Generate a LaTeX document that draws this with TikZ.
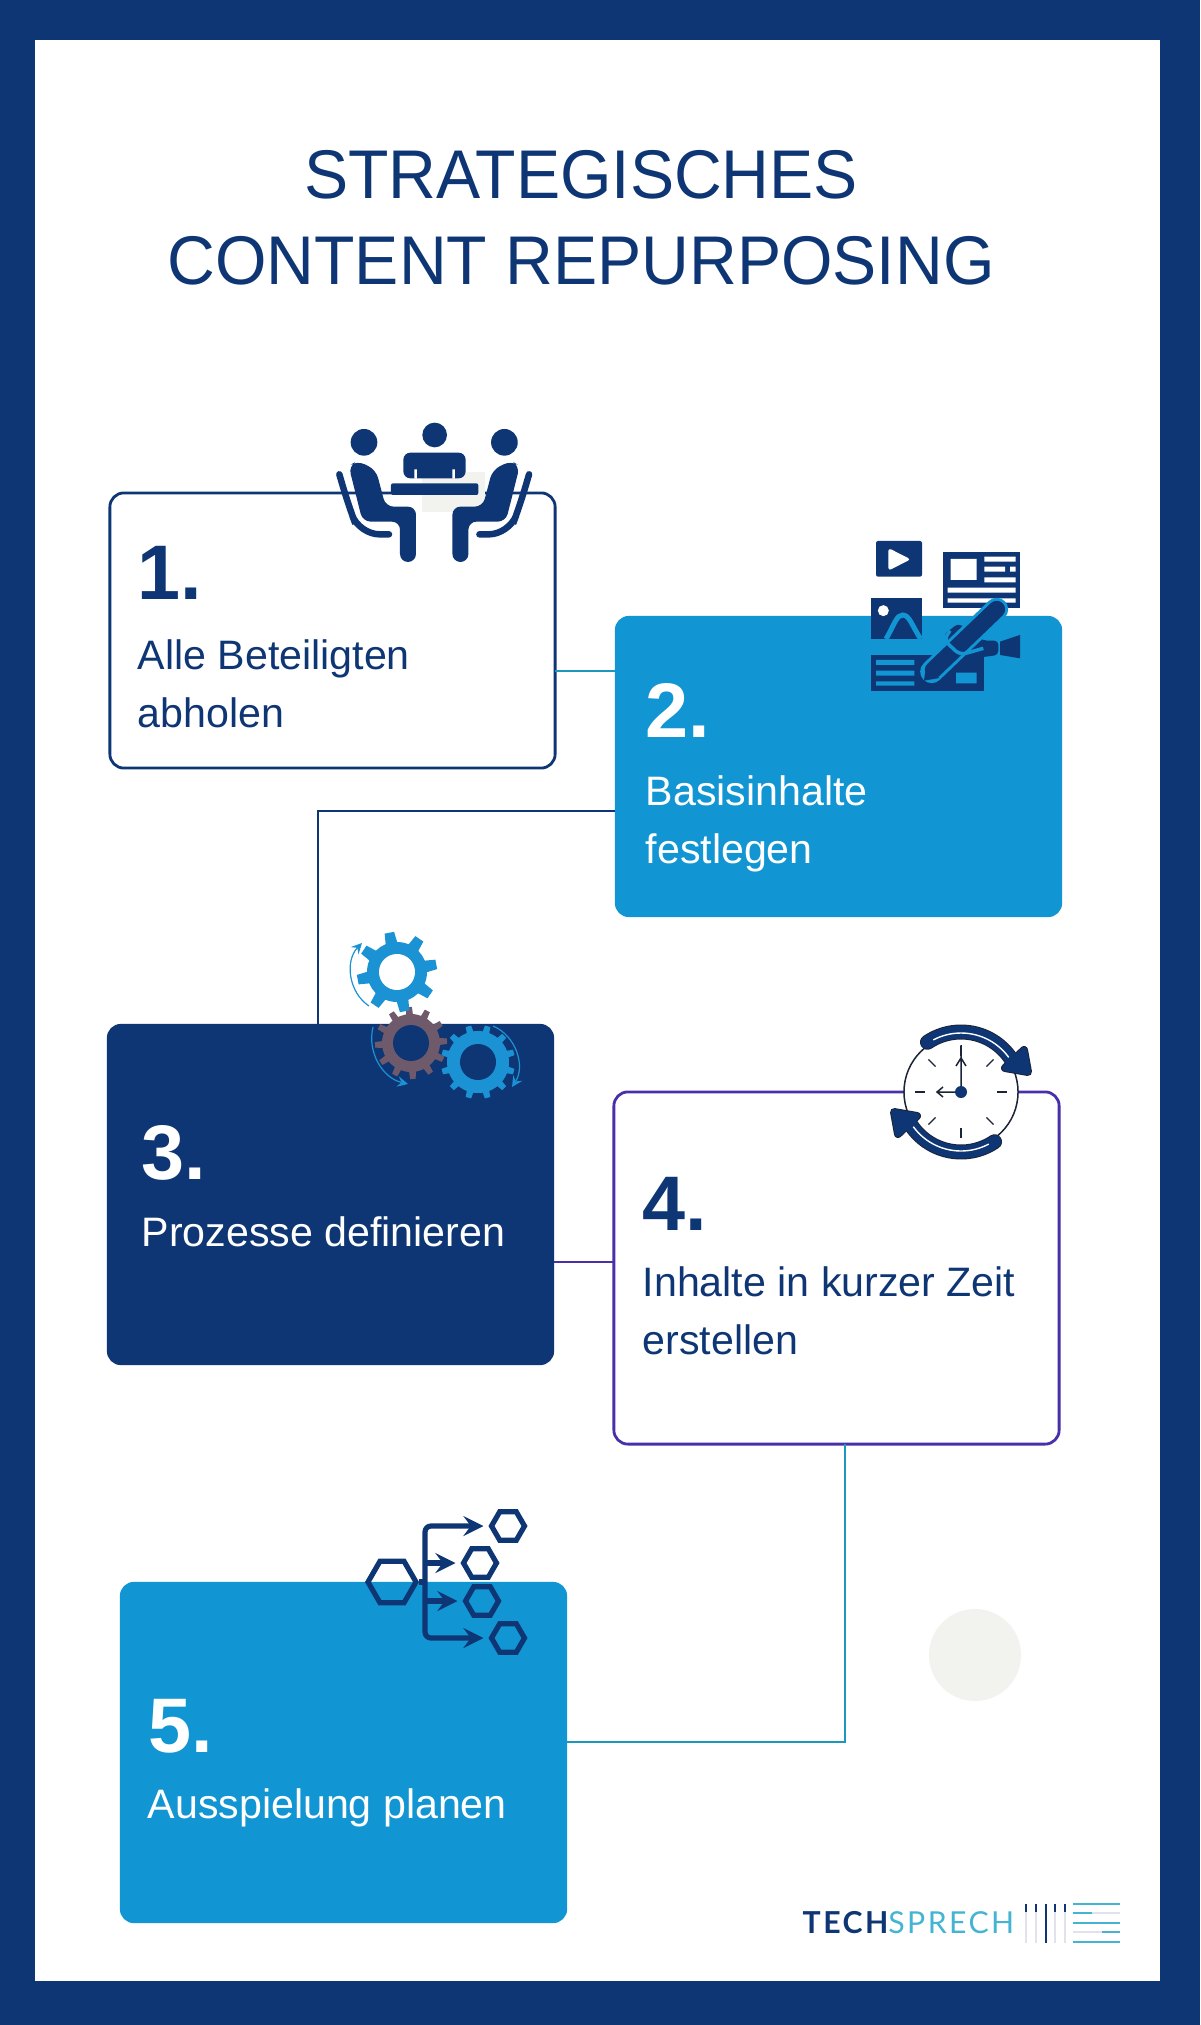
\documentclass[tikz,border=0pt]{standalone}
\usepackage{fontspec}
\setmainfont{Liberation Sans}
\newfontfamily\titlefont[FakeStretch=0.96]{Liberation Sans}
\newfontfamily\logofont[LetterSpace=8]{Lato}
\usetikzlibrary{shapes.geometric}

\definecolor{navyblue}{HTML}{0F3674}
\definecolor{cardblue}{HTML}{1195D3}
\definecolor{linkteal}{HTML}{1C98BC}
\definecolor{linkpurple}{HTML}{4A30A8}
\definecolor{paledot}{HTML}{F2F2EE}
\definecolor{gearblue}{HTML}{1B92D4}
\definecolor{gearbrown}{HTML}{6F5A6C}
\definecolor{clockdark}{HTML}{1B2438}
\definecolor{barpale}{HTML}{E2E2EC}
\definecolor{logoteal}{HTML}{45B4D2}

% x y corpo punta denti larghezza colore foro rotazione
\newcommand{\gearicon}[9]{
  \begin{scope}[shift={(#1,#2)}]
    \fill[#7] (0,0) circle[radius=#3*0.01cm];
    \foreach \i in {1,...,#5}
      \fill[#7,rotate=#9+360*\i/#5] (-#6,#3-2) -- (-#6*0.8,#4) -- (#6*0.8,#4) -- (#6,#3-2) -- cycle;
  \end{scope}
  \fill[#8] (#1,#2) circle[radius=0.18cm];
}

\tikzset{
  card/.style={rectangle,rounded corners=0.14cm,line width=0.028cm,inner sep=0pt,outer sep=0pt},
  number/.style={anchor=base west,inner sep=0pt,font=\bfseries\fontsize{22}{22}\selectfont},
  label/.style={anchor=north west,inner sep=0pt,align=left,font=\fontsize{11.7}{16.5}\selectfont},
  link/.style={line width=0.028cm},
  flow/.style={navyblue,line width=0.052cm},
  hexa/.style={regular polygon,regular polygon sides=6,draw=navyblue,line width=0.052cm,inner sep=0pt}
}

\begin{document}
\begin{tikzpicture}[x=0.01cm,y=-0.01cm,>=stealth]

  % Cornice e sfondo
  \fill[navyblue] (0,0) rectangle (1200,2025);
  \fill[white] (35,40) rectangle (1160,1981);
  \node[circle,fill=paledot,minimum size=0.92cm,inner sep=0pt] (dot) at (975,1655) {};

  \node[text=navyblue,align=center,font=\titlefont\fontsize{19.6}{24.6}\selectfont] (title) at (581,218)
    {STRATEGISCHES\\CONTENT REPURPOSING};

  % Riquadri
  \node[card,draw=navyblue,fill=white,minimum width=4.45cm,minimum height=2.75cm] (box1) at (332.5,630.5) {};
  \node[card,fill=cardblue,minimum width=4.47cm,minimum height=3.01cm] (box2) at (838.5,766.5) {};
  \node[card,fill=navyblue,minimum width=4.47cm,minimum height=3.41cm] (box3) at (330.5,1194.5) {};
  \node[card,draw=linkpurple,fill=white,minimum width=4.45cm,minimum height=3.52cm] (box4) at (836.5,1268) {};
  \node[card,fill=cardblue,minimum width=4.47cm,minimum height=3.41cm] (box5) at (343.5,1752.5) {};

  % Collegamenti
  \coordinate (j12) at (555,671);
  \coordinate (j23) at (615,811);
  \coordinate (k23) at (318,811);
  \coordinate (j34) at (554,1262);
  \coordinate (j45) at (845,1444);
  \draw[link,linkteal] (j12) -- (j12 -| box2.west);
  \draw[link,navyblue] (j23) -- (k23) -- (k23 |- box3.north);
  \draw[link,linkpurple] (j34) -- (j34 -| box4.west);
  \draw[link,linkteal] (j45) |- (box5.east |- 0,1742);

  % Testi
  \node[number,text=navyblue] (num1) at (137,600) {1.};
  \node[label,text=navyblue] (text1) at (137,639) {Alle Beteiligten\\abholen};
  \node[number,text=white] (num2) at (645,737) {2.};
  \node[label,text=white] (text2) at (645,775) {Basisinhalte\\festlegen};
  \node[number,text=white] (num3) at (141,1179) {3.};
  \node[label,text=white] (text3) at (141,1216) {Prozesse definieren};
  \node[number,text=navyblue] (num4) at (642,1230) {4.};
  \node[label,text=navyblue] (text4) at (642,1266) {Inhalte in kurzer Zeit\\erstellen};
  \node[number,text=white] (num5) at (148,1752) {5.};
  \node[label,text=white] (text5) at (147,1788) {Ausspielung planen};

  % Icona riunione
  \fill[paledot] (422,472) rectangle (485,512);
  \begin{scope}[shift={(320,410)},scale=0.3333]
    \fill[navyblue] (344,75) circle[radius=0.37cm];
    \fill[navyblue,rounded corners=0.07cm] (250,205) -- (250,128) -- (437,128) -- (437,205) -- cycle;
    \fill[white] (283,178) rectangle (291,206) (397,178) rectangle (405,206);
    \fill[navyblue,rounded corners=0.02cm] (213,220) rectangle (475,255);
  \end{scope}
  \foreach \sx/\ox in {0.3333/320,-0.3333/548.4} {
    \begin{scope}[shift={(\ox,410)},xscale=\sx,yscale=0.3333]
      \fill[navyblue] (132,97) circle[radius=0.4cm];
      \fill[navyblue,rounded corners=0.08cm] (86,168) -- (112,152) -- (168,180) -- (197,290) -- (288,290) -- (288,456) -- (240,456) -- (240,335) -- (128,335) -- cycle;
      \draw[navyblue,line width=0.065cm,line cap=round,rounded corners=0.2cm] (58,193) -- (85,285) -- (118,373) -- (207,373);
    \end{scope}
  }

  % Icona contenuti
  \begin{scope}[shift={(850,520)},scale=0.3333]
    \fill[navyblue,rounded corners=0.02cm] (78,63) rectangle (216,170);
    \fill[white,rounded corners=0.03cm] (115,84) -- (182,118) -- (115,152) -- cycle;
    \fill[navyblue] (280,95) rectangle (510,265);
    \fill[white] (302,117) rectangle (380,180) (403,110) rectangle (497,125)
      (403,140) rectangle (465,155) (480,140) rectangle (497,155)
      (403,172) rectangle (497,187) (293,203) rectangle (497,218) (293,235) rectangle (497,248);
    \fill[navyblue] (63,235) rectangle (217,357);
    \fill[white] (100,272) circle[radius=0.165cm];
    \draw[cardblue,line width=0.05cm] (108,357) .. controls (135,310) and (140,285) .. (158,285) .. controls (178,285) and (185,315) .. (212,357);
    \fill[navyblue] (63,405) rectangle (403,513);
    \fill[cardblue] (78,420) rectangle (193,435) (78,452) rectangle (193,467) (78,484) rectangle (193,497) (318,458) rectangle (380,490);
    \fill[navyblue] (450,365) -- (510,345) -- (510,415) -- (450,405) -- cycle;
    \fill[navyblue,rounded corners=0.04cm] (280,345) -- (325,310) -- (400,362) -- (445,362) -- (445,405) -- (335,420) -- cycle;
    \draw[cardblue,line width=0.23cm,line cap=round] (440,268) -- (245,455);
    \draw[navyblue,line width=0.17cm,line cap=round] (440,268) -- (250,450);
    \fill[navyblue] (222,482) -- (228,436) -- (268,474) -- cycle;
    \draw[cardblue,line width=0.035cm,rounded corners=0.06cm] (300,332) -- (282,360) -- (330,405) -- (400,385);
  \end{scope}

  % Icona ingranaggi
  \gearicon{411}{1043}{29}{36}{12}{3.5}{gearbrown}{navyblue}{3}
  \gearicon{478}{1062}{31}{37}{12}{3.5}{gearblue}{navyblue}{15}
  \gearicon{397}{972}{30}{40}{8}{6}{gearblue}{white}{11}
  \draw[->,gearblue,line width=0.012cm] (369,1006) to[bend left=50] (362,943);
  \draw[->,gearblue,line width=0.012cm] (373,1027) to[bend right=45] (408,1084);
  \draw[->,gearblue,line width=0.012cm] (493,1026) to[bend left=50] (512,1087);

  % Icona orologio
  \node[circle,draw=clockdark,fill=white,line width=0.015cm,minimum size=1.14cm,inner sep=0pt] (clock) at (961,1092) {};
  \begin{scope}[shift={(961,1092)}]
    \foreach \a in {0,45,...,315}
      \draw[clockdark,line width=0.012cm] (\a:36) -- (\a:46);
    \draw[clockdark,line width=0.015cm] (0,0) -- (0,-47) (-5,-26) -- (0,-34) -- (5,-26);
    \draw[clockdark,line width=0.015cm] (0,0) -- (-24,0) (-18,-5) -- (-24,0) -- (-18,5);
    \fill[navyblue] (0,0) circle[radius=0.06cm];
    \foreach \r in {0,180} {
      \begin{scope}[rotate=\r]
        \draw[clockdark,line width=0.15cm,line cap=round] plot[domain=124:30,samples=24] ({60*cos(\x)},{-60*sin(\x)});
        \draw[clockdark,line width=0.08cm,line join=round,fill=navyblue] (63,-42) -- (67,-20) -- (44,-24) -- cycle;
        \draw[navyblue,line width=0.13cm,line cap=round] plot[domain=124:30,samples=24] ({60*cos(\x)},{-60*sin(\x)});
        \draw[navyblue,line width=0.06cm,line join=round,fill=navyblue] (63,-42) -- (67,-20) -- (44,-24) -- cycle;
        \draw[white,line width=0.014cm] plot[domain=118:36,samples=24] ({59*cos(\x)},{-59*sin(\x)});
      \end{scope}
    }
  \end{scope}

  % Icona distribuzione
  \node[hexa,minimum size=0.48cm] (hub) at (392,1582) {};
  \node[hexa,minimum size=0.33cm] (leaf1) at (508,1526) {};
  \node[hexa,minimum size=0.33cm] (leaf2) at (480,1563) {};
  \node[hexa,minimum size=0.33cm] (leaf3) at (482,1601) {};
  \node[hexa,minimum size=0.33cm] (leaf4) at (508,1638) {};
  \coordinate (fork) at (425,1582);
  \draw[flow] (hub) -- (fork);
  \draw[flow,->,rounded corners=0.06cm,shorten >=0.05cm] (fork) |- (leaf1);
  \draw[flow,->,rounded corners=0.06cm,shorten >=0.05cm] (fork) |- (leaf4);
  \draw[flow,->,shorten >=0.05cm] (fork |- leaf2) -- (leaf2);
  \draw[flow,->,shorten >=0.05cm] (fork |- leaf3) -- (leaf3);

  % Logo
  \node[anchor=base west,inner sep=0pt,text=logoteal,font=\logofont\fontsize{8.6}{8.6}\selectfont] (logo) at (802,1933)
    {\textcolor{navyblue}{\bfseries TECH}SPRECH};
  \foreach \bx in {1026,1036,1046,1055,1065} {
    \draw[barpale,line width=0.025cm] (\bx,1904) -- (\bx,1943);
    \draw[navyblue,line width=0.025cm] (\bx,1904) -- (\bx,1912);
  }
  \draw[navyblue,line width=0.025cm] (1046,1904) -- (1046,1943);
  \foreach \ly in {1904,1923,1942}
    \draw[logoteal,line width=0.025cm] (1073,\ly) -- (1120,\ly);
  \draw[barpale,line width=0.025cm] (1073,1913) -- (1120,1913) (1073,1932) -- (1120,1932);
  \draw[logoteal,line width=0.025cm] (1073,1913) -- (1092,1913) (1102,1932) -- (1120,1932);

\end{tikzpicture}
\end{document}
